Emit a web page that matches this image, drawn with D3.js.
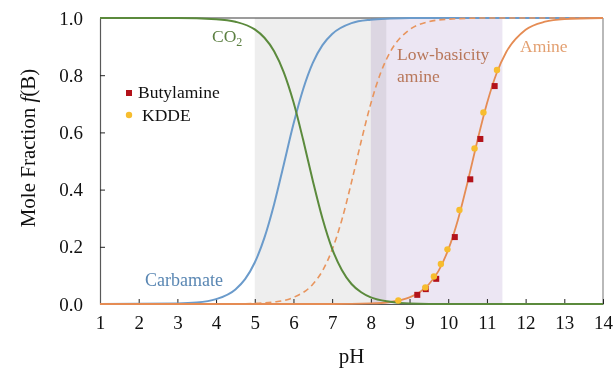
<!DOCTYPE html>
<html>
<head>
<meta charset="utf-8">
<script src="https://cdn.jsdelivr.net/npm/d3@7/dist/d3.min.js"></script>
<style>
body { margin: 0; background: #fff; }
text { font-family: "Liberation Serif", "Times New Roman", serif; }
</style>
</head>
<body>
<div class="graph"></div>
<script>
// curves: [pH, fraction]
var co2Curve = [[1,1],[3,1],[4,0.996],[4.5,0.987],[5,0.960],[5.25,0.931],[5.5,0.884],[5.75,0.810],[6,0.706],[6.25,0.574],[6.5,0.431],[6.75,0.299],[7,0.193],[7.25,0.119],[7.5,0.070],[7.75,0.041],[8,0.023],[8.5,0.008],[9,0.002],[10,0],[14,0]];
var carbamateCurve = [[1,0],[3,0.002],[3.5,0.005],[4,0.017],[4.5,0.051],[4.75,0.087],[5,0.145],[5.25,0.232],[5.5,0.349],[5.75,0.488],[6,0.629],[6.25,0.751],[6.5,0.843],[6.75,0.905],[7,0.944],[7.5,0.982],[8,0.994],[8.5,0.998],[9,1],[14,1]];
var lowBasicityCurve = [[4.5,0],[5,0.002],[5.5,0.007],[6,0.023],[6.5,0.069],[6.75,0.116],[7,0.190],[7.25,0.294],[7.5,0.426],[7.75,0.569],[8,0.701],[8.25,0.807],[8.5,0.881],[9,0.959],[9.5,0.987],[10,0.996],[11,1],[14,1]];
var amineCurve = [[1,0],[7,0],[8,0.002],[8.5,0.007],[9,0.023],[9.25,0.040],[9.5,0.069],[9.75,0.116],[10,0.190],[10.25,0.294],[10.5,0.426],[10.75,0.569],[11,0.701],[11.25,0.807],[11.5,0.881],[12,0.959],[12.5,0.987],[13,0.996],[14,1]];

// measured points
var butylamine = [[9.20,0.032],[9.42,0.052],[9.69,0.088],[10.17,0.234],[10.57,0.436],[10.83,0.577],[11.20,0.762]];
var kdde = [[8.71,0.012],[9.41,0.058],[9.63,0.096],[9.81,0.140],[9.98,0.191],[10.29,0.329],[10.68,0.544],[10.91,0.670],[11.26,0.818]];

// shaded pH windows
var grayBand = [5, 8.4];
var purpleBand = [8, 11.4];

var xTicks = d3.range(1, 15);
var yTicks = [0, 0.2, 0.4, 0.6, 0.8, 1.0];

var margin = {top: 18, right: 11, bottom: 65, left: 100};
var outer_width = 614, outer_height = 369;
var w = outer_width - margin.left - margin.right;
var h = outer_height - margin.top - margin.bottom;

var svg = d3.select(".graph").append("svg")
	.attr("width", outer_width)
	.attr("height", outer_height)
	.append("g")
	.attr("transform", "translate(" + margin.left + "," + margin.top + ")");

var xScale = d3.scaleLinear().domain([1, 14]).range([0, w]);
var yScale = d3.scaleLinear().domain([0, 1]).range([h, 0]);

// bands
svg.append("rect")
	.attr("x", xScale(grayBand[0])).attr("y", 0)
	.attr("width", xScale(grayBand[1]) - xScale(grayBand[0])).attr("height", h)
	.style("fill", "#eeeeee");
svg.append("rect")
	.attr("x", xScale(purpleBand[0])).attr("y", 0)
	.attr("width", xScale(purpleBand[1]) - xScale(purpleBand[0])).attr("height", h)
	.style("fill", "#ece6f3")
	.style("mix-blend-mode", "multiply");

// frame
svg.append("line").attr("x1", 0).attr("x2", w).attr("y1", 0).attr("y2", 0)
	.style("stroke", "#3a3a3a").style("stroke-width", 1.2);
svg.append("line").attr("x1", w).attr("x2", w).attr("y1", 0).attr("y2", h)
	.style("stroke", "#8a8a8a").style("stroke-width", 1.2);

// axes, ticks inside
var xAxis = d3.axisBottom(xScale).tickValues(xTicks).tickSizeInner(-5).tickSizeOuter(0).tickPadding(12).tickFormat(d3.format("d"));
var yAxis = d3.axisLeft(yScale).tickValues(yTicks).tickSizeInner(-5).tickSizeOuter(0).tickPadding(17).tickFormat(d3.format(".1f"));

var gx = svg.append("g").attr("transform", "translate(0," + h + ")").call(xAxis);
var gy = svg.append("g").call(yAxis);
[gx, gy].forEach(function(g) {
	g.select(".domain").style("stroke", "#595959").style("stroke-width", 1.2);
	g.selectAll(".tick line").style("stroke", "#222");
	g.selectAll(".tick text").style("font-family", "Liberation Serif").style("font-size", "19px").style("fill", "#111");
});
gx.selectAll(".tick text").attr("dy", "0.71em");

// curves
var line = d3.line()
	.x(function(d) { return xScale(d[0]); })
	.y(function(d) { return yScale(d[1]); })
	.curve(d3.curveMonotoneX);

svg.append("path").datum(carbamateCurve).attr("d", line)
	.style("fill", "none").style("stroke", "#6b9bcb").style("stroke-width", 2);
svg.append("path").datum(lowBasicityCurve).attr("d", line)
	.style("fill", "none").style("stroke", "#e8955e").style("stroke-width", 1.6)
	.style("stroke-dasharray", "6,4");
svg.append("path").datum(amineCurve).attr("d", line)
	.style("fill", "none").style("stroke", "#e58c54").style("stroke-width", 1.8);
svg.append("path").datum(co2Curve).attr("d", line)
	.style("fill", "none").style("stroke", "#5b8a3c").style("stroke-width", 2);

// points
svg.selectAll(".buty").data(butylamine).enter().append("rect")
	.attr("class", "buty")
	.attr("x", function(d) { return xScale(d[0]) - 3; })
	.attr("y", function(d) { return yScale(d[1]) - 3; })
	.attr("width", 6).attr("height", 6)
	.style("fill", "#b3121a");
svg.selectAll(".kdde").data(kdde).enter().append("circle")
	.attr("class", "kdde")
	.attr("cx", function(d) { return xScale(d[0]); })
	.attr("cy", function(d) { return yScale(d[1]); })
	.attr("r", 3.2)
	.style("fill", "#f7bd2e");

// curve labels
var co2 = svg.append("text").attr("x", 212 - margin.left).attr("y", 42 - margin.top)
	.style("font-size", "17.5px").style("fill", "#5b7f41");
co2.append("tspan").text("CO");
co2.append("tspan").text("2").attr("dy", 4).style("font-size", "12px");

svg.append("text").attr("x", 145 - margin.left).attr("y", 286 - margin.top)
	.style("font-size", "18px").style("fill", "#5a87b3").text("Carbamate");
svg.append("text").attr("x", 397 - margin.left).attr("y", 60 - margin.top)
	.style("font-size", "17.5px").style("fill", "#b8775a").text("Low-basicity");
svg.append("text").attr("x", 397 - margin.left).attr("y", 82 - margin.top)
	.style("font-size", "17.5px").style("fill", "#b8775a").text("amine");
svg.append("text").attr("x", 520 - margin.left).attr("y", 52 - margin.top)
	.style("font-size", "17.5px").style("fill", "#e3a071").text("Amine");

// legend
svg.append("rect").attr("x", 126 - margin.left).attr("y", 90 - margin.top)
	.attr("width", 6).attr("height", 6).style("fill", "#b3121a");
svg.append("text").attr("x", 138 - margin.left).attr("y", 98 - margin.top)
	.style("font-size", "17.5px").style("fill", "#111").text("Butylamine");
svg.append("circle").attr("cx", 129 - margin.left).attr("cy", 115 - margin.top)
	.attr("r", 3.2).style("fill", "#f7bd2e");
svg.append("text").attr("x", 142 - margin.left).attr("y", 121 - margin.top)
	.style("font-size", "17.5px").style("fill", "#111").text("KDDE");

// axis titles
svg.append("text")
	.attr("x", w / 2).attr("y", 363 - margin.top)
	.style("text-anchor", "middle").style("font-size", "21px").style("fill", "#111")
	.text("pH");

var yt = svg.append("text")
	.attr("transform", "translate(" + (35 - margin.left) + "," + (148 - margin.top) + ") rotate(-90)")
	.style("text-anchor", "middle").style("font-size", "21px").style("fill", "#111");
yt.append("tspan").text("Mole Fraction ");
yt.append("tspan").text("f").style("font-style", "italic");
yt.append("tspan").text("(B)");
</script>
</body>
</html>
